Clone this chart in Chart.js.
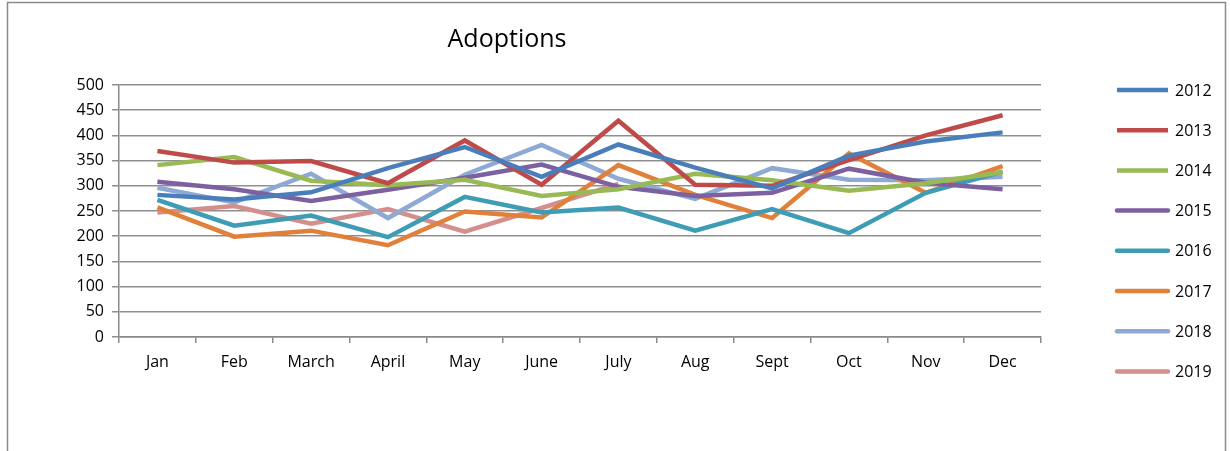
<!DOCTYPE html>
<html>
<head>
<meta charset="utf-8">
<script src="https://cdn.jsdelivr.net/npm/chart.js@4/dist/chart.umd.min.js"></script>
<style>
  html, body { margin: 0; padding: 0; background: #fff; }
  #wrap { position: relative; width: 1230px; height: 451px; }
</style>
</head>
<body>
<div id="wrap"><canvas id="c" width="1230" height="451"></canvas></div>
<script>
const categories = ['Jan','Feb','March','April','May','June','July','Aug','Sept','Oct','Nov','Dec'];
const seriesNames = ['2012','2013','2014','2015','2016','2017','2018','2019'];
const s2012 = [282, 273, 287, 335, 377, 318, 382, 336, 295, 360, 388, 406];
const s2013 = [369, 346, 349, 305, 390, 302, 429, 302, 300, 351, 400, 440];
const s2014 = [341, 357, 310, 301, 312, 280, 293, 324, 311, 290, 305, 327];
const s2015 = [308, 293, 270, 292, 316, 342, 298, 280, 286, 334, 306, 293];
const s2016 = [272, 221, 241, 198, 278, 247, 257, 211, 254, 206, 286, 328];
const s2017 = [257, 199, 211, 182, 249, 237, 341, 282, 236, 364, 286, 339];
const s2018 = [296, 267, 324, 236, 322, 381, 314, 274, 335, 312, 311, 318];
const s2019 = [247, 260, 225, 254, 209, 256, 304, null, null, null, null, null];
const yTicks = [0, 50, 100, 150, 200, 250, 300, 350, 400, 450, 500];
const colors = ['#4A7EBB','#BE4B48','#98B954','#7D60A0','#3E9CB4','#E0803A','#8EA9D3','#D48F8D'];

const allSeries = [s2012, s2013, s2014, s2015, s2016, s2017, s2018, s2019];
const FONT = "'Open Sans', 'Noto Sans', sans-serif";

const frame = {
  id: 'frame',
  beforeDraw(chart) {
    const ctx = chart.ctx;
    ctx.save();
    ctx.fillStyle = '#fff';
    ctx.fillRect(0, 0, chart.width, chart.height);
    ctx.strokeStyle = '#8a8a8a';
    ctx.lineWidth = 1.5;
    ctx.strokeRect(7.5, 2.5, 1218, 470);
    ctx.restore();
  },
  afterDraw(chart) {
    const ctx = chart.ctx;
    ctx.save();
    // title
    ctx.fillStyle = '#000';
    ctx.font = "25px " + FONT;
    ctx.textAlign = 'center';
    ctx.textBaseline = 'middle';
    ctx.fillText('Adoptions', 507, 40);
    // legend
    ctx.font = "16px " + FONT;
    ctx.textAlign = 'left';
    chart.data.datasets.forEach((ds, i) => {
      const y = 90 + i * 40.2;
      ctx.strokeStyle = ds.borderColor;
      ctx.lineWidth = 4.5;
      ctx.lineCap = i < 3 ? 'butt' : 'round';
      ctx.beginPath();
      ctx.moveTo(1117, y);
      ctx.lineTo(1168, y);
      ctx.stroke();
      ctx.fillStyle = '#000';
      ctx.fillText(ds.label, 1175, y + 1);
    });
    ctx.restore();
  }
};

new Chart(document.getElementById('c'), {
  type: 'line',
  data: {
    labels: categories,
    datasets: seriesNames.map((n, i) => ({
      label: n,
      data: allSeries[i],
      borderColor: colors[i],
      backgroundColor: colors[i],
      borderWidth: 4.5,
      pointRadius: 0,
      tension: 0,
      fill: false,
      spanGaps: false
    }))
  },
  options: {
    responsive: false,
    animation: false,
    devicePixelRatio: 1,
    layout: { padding: { left: 0, right: 189, top: 85, bottom: 0 } },
    plugins: {
      legend: { display: false },
      title: { display: false },
      tooltip: { enabled: false }
    },
    scales: {
      x: {
        type: 'category',
        offset: true,
        grid: {
          offset: true,
          drawOnChartArea: false,
          drawTicks: true,
          tickLength: 6,
          color: '#8a8a8a',
          lineWidth: 1.5
        },
        border: { display: true, color: '#8a8a8a', width: 1.5 },
        ticks: {
          color: '#000',
          font: { family: FONT, size: 16 },
          padding: 10,
          maxRotation: 0,
          autoSkip: false
        },
        afterFit(s) { s.height = 114; }
      },
      y: {
        min: 0,
        max: 500,
        afterBuildTicks(s) { s.ticks = yTicks.map(v => ({ value: v })); },
        grid: {
          color: '#8f8f8f',
          lineWidth: 1.5,
          drawTicks: true,
          tickLength: 7
        },
        border: { display: true, color: '#8a8a8a', width: 1.5 },
        ticks: {
          color: '#000',
          font: { family: FONT, size: 16 },
          padding: 8
        },
        afterFit(s) { s.width = 119; }
      }
    }
  },
  plugins: [frame]
});
</script>
</body>
</html>
